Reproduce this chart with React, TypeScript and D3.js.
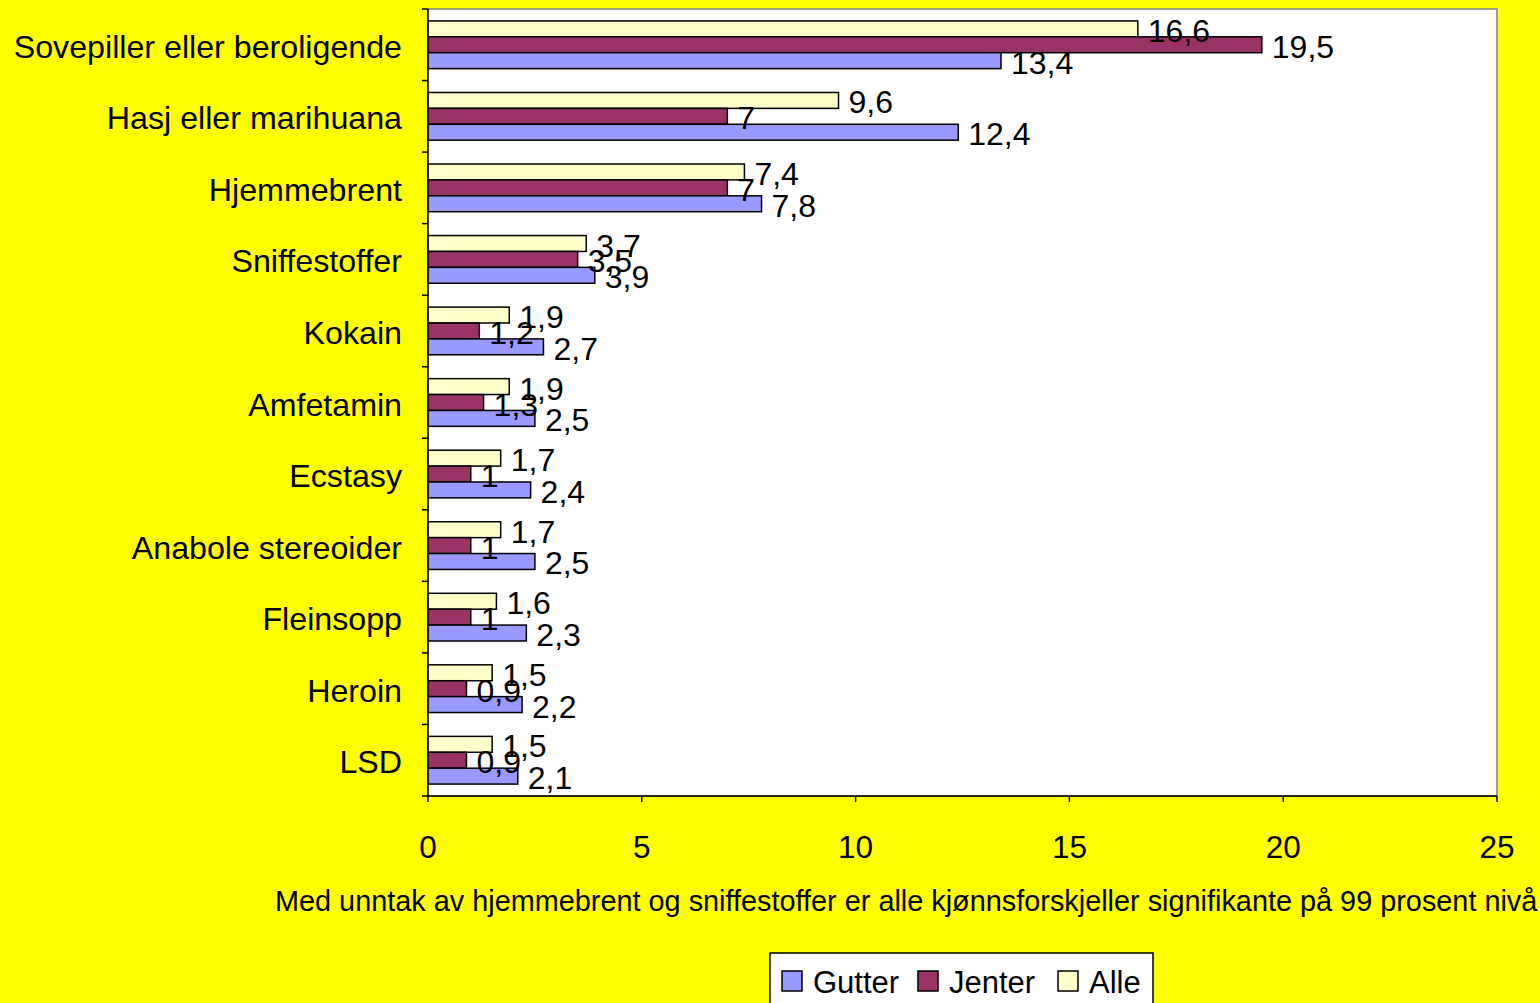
import * as d3 from 'd3'

const categories = [
  'Sovepiller eller beroligende',
  'Hasj eller marihuana',
  'Hjemmebrent',
  'Sniffestoffer',
  'Kokain',
  'Amfetamin',
  'Ecstasy',
  'Anabole stereoider',
  'Fleinsopp',
  'Heroin',
  'LSD',
]
const gutter = [13.4, 12.4, 7.8, 3.9, 2.7, 2.5, 2.4, 2.5, 2.3, 2.2, 2.1]
const jenter = [19.5, 7, 7, 3.5, 1.2, 1.3, 1, 1, 1, 0.9, 0.9]
const alle = [16.6, 9.6, 7.4, 3.7, 1.9, 1.9, 1.7, 1.7, 1.6, 1.5, 1.5]
const xTicks = [0, 5, 10, 15, 20, 25]
const note = 'Med unntak av hjemmebrent og sniffestoffer er alle kjønnsforskjeller signifikante på 99 prosent nivå'

// drawn top to bottom inside each category band
const series = [
  { name: 'Alle', values: alle, color: '#FFFFCC' },
  { name: 'Jenter', values: jenter, color: '#993366' },
  { name: 'Gutter', values: gutter, color: '#9999FF' },
]
const legendOrder = ['Gutter', 'Jenter', 'Alle']

const W = 1540
const H = 1003
const FONT = '"Liberation Sans", Arial, sans-serif'

const fmt = (v: number) => String(v).replace('.', ',')

export default function App() {
  const plot = { left: 428, right: 1497, top: 9, bottom: 796 }
  const x = d3.scaleLinear().domain([0, 25]).range([plot.left, plot.right])
  const y = d3.scaleBand<string>().domain(categories).range([plot.top, plot.bottom])
  const inner = d3
    .scaleBand<string>()
    .domain(series.map(s => s.name))
    .range([0, y.bandwidth()])
    .paddingOuter(0.75)
    .paddingInner(0)

  const boundaries = d3.range(categories.length + 1).map(i => plot.top + i * y.step())

  return (
    <svg
      width={W}
      height={H}
      style={{ position: 'absolute', left: 0, top: 0, display: 'block', fontVariantLigatures: 'none' }}
      fontFamily={FONT}
    >
      <rect x={0} y={0} width={W} height={H} fill="#FFFF00" />
      <rect
        x={plot.left}
        y={plot.top}
        width={plot.right - plot.left}
        height={plot.bottom - plot.top}
        fill="#ffffff"
        stroke="#808080"
        strokeWidth={1.5}
      />

      {/* bars */}
      {categories.map((c, i) =>
        series.map(s => (
          <rect
            key={c + s.name}
            x={x(0)}
            y={(y(c) ?? 0) + (inner(s.name) ?? 0)}
            width={x(s.values[i]) - x(0)}
            height={inner.bandwidth()}
            fill={s.color}
            stroke="#000"
            strokeWidth={1.5}
          />
        ))
      )}

      {/* value labels */}
      {categories.map((c, i) =>
        series.map(s => (
          <text
            key={'l' + c + s.name}
            x={x(s.values[i]) + 10}
            y={(y(c) ?? 0) + (inner(s.name) ?? 0) + inner.bandwidth() / 2 + 2}
            dominantBaseline="central"
            fontSize={32}
            fill="#000"
          >
            {fmt(s.values[i])}
          </text>
        ))
      )}

      {/* axes */}
      <line x1={plot.left} x2={plot.left} y1={plot.top} y2={plot.bottom} stroke="#000" strokeWidth={1.5} />
      <line x1={plot.left} x2={plot.right} y1={plot.bottom} y2={plot.bottom} stroke="#000" strokeWidth={1.5} />
      {boundaries.map((b, i) => (
        <line key={'yt' + i} x1={plot.left - 6} x2={plot.left} y1={b} y2={b} stroke="#000" strokeWidth={1.5} />
      ))}
      {xTicks.map(t => (
        <g key={'xt' + t}>
          <line x1={x(t)} x2={x(t)} y1={plot.bottom} y2={plot.bottom + 6} stroke="#000" strokeWidth={1.5} />
          <text x={x(t)} y={847} textAnchor="middle" dominantBaseline="central" fontSize={31.5}>
            {t}
          </text>
        </g>
      ))}
      {categories.map(c => (
        <text
          key={'c' + c}
          x={402}
          y={(y(c) ?? 0) + y.bandwidth() / 2 + 2}
          textAnchor="end"
          dominantBaseline="central"
          fontSize={32.2}
        >
          {c}
        </text>
      ))}

      <text x={275} y={911} fontSize={28.85}>
        {note}
      </text>

      {/* legend */}
      <rect x={770} y={953} width={383} height={70} fill="#fff" stroke="#000" strokeWidth={1.5} />
      {legendOrder.map((name, i) => {
        const s = series.find(d => d.name === name)!
        const lx = [782, 918, 1058][i]
        return (
          <g key={'lg' + name}>
            <rect x={lx} y={971} width={20} height={20} fill={s.color} stroke="#000" strokeWidth={1.5} />
            <text x={lx + 31} y={993} fontSize={31}>
              {name}
            </text>
          </g>
        )
      })}
    </svg>
  )
}
